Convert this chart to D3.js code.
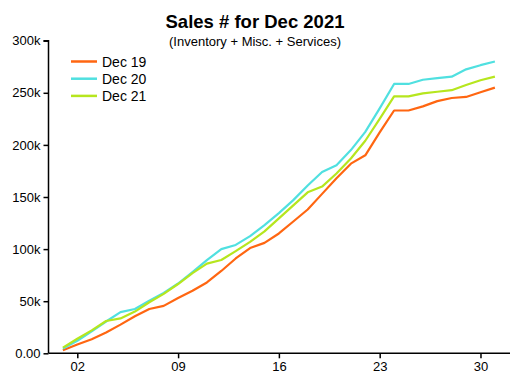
<!DOCTYPE html>
<html>
<head>
<meta charset="utf-8">
<script src="https://cdn.jsdelivr.net/npm/d3@7"></script>
<style>
  body { margin: 0; background: #fff; }
  svg { display: block; font-family: "Liberation Sans", Arial, sans-serif; }
  .axis text { font-size: 13px; fill: #000; }
  .axis path, .axis line { stroke: #000; stroke-width: 1.5; }
</style>
</head>
<body>
<svg id="chart" width="510" height="382"></svg>
<script>
const days = d3.range(1, 32);
const dec19 = [3, 8.5, 13.5, 20, 27.5, 35.5, 42.5, 45.5, 53, 60, 68, 79, 91, 101, 106, 115, 126.5, 138, 153, 168, 182, 190, 212, 233, 233, 237, 242, 245, 246, 250.5, 255];
const dec20 = [4.5, 12, 21, 30.5, 39.5, 42.5, 50.5, 58, 67, 78, 89.5, 100, 104, 112.5, 123, 134.5, 147, 161, 174, 180.5, 195, 212.5, 235, 258.5, 258.5, 262.5, 264, 265.5, 272.5, 276.5, 280];
const dec21 = [5.5, 14, 22, 31, 33.5, 40, 49, 57, 66.5, 77, 86, 89.5, 98, 107, 117, 129.5, 142, 154.5, 160, 172.5, 187, 204, 225, 246.5, 246.5, 249.5, 251, 252.5, 257.5, 262, 265.5];
const seriesNames = ["Dec 19", "Dec 20", "Dec 21"];
const seriesColors = ["#ff6611", "#50e0e0", "#b6e61e"];
const xTicks = [2, 9, 16, 23, 30];
const yTicks = [0, 50, 100, 150, 200, 250, 300];

const series = [dec19, dec20, dec21].map((values, index) => ({
  name: seriesNames[index],
  color: seriesColors[index],
  values: values.map((value, i) => ({ day: days[i], value }))
}));

const svg = d3.select("#chart");
const x = d3.scaleLinear().domain([0, 32.05]).range([48.5, 510]);
const y = d3.scaleLinear().domain([0, 300]).range([353.3, 40.7]);

svg.append("g")
  .attr("class", "axis")
  .attr("transform", "translate(48.5,0)")
  .call(d3.axisLeft(y).tickValues(yTicks).tickSize(5).tickPadding(3)
    .tickFormat((value) => value === 0 ? "0.00" : `${value}k`))
  .call((g) => g.select(".domain").attr("d", `M-5,${y(300)}H0V${y(0)}`));

svg.append("g")
  .attr("class", "axis")
  .attr("transform", "translate(0,353.3)")
  .call(d3.axisBottom(x).tickValues(xTicks).tickSize(5).tickPadding(3)
    .tickFormat((value) => String(value).padStart(2, "0")))
  .call((g) => g.select(".domain").attr("d", `M48.5,0H510`));

const line = d3.line()
  .x((item) => x(item.day))
  .y((item) => y(item.value));

svg.append("g")
  .selectAll("path")
  .data(series)
  .join("path")
  .attr("fill", "none")
  .attr("stroke", (item) => item.color)
  .attr("stroke-width", 2.2)
  .attr("stroke-linejoin", "round")
  .attr("d", (item) => line(item.values));

svg.append("text")
  .attr("x", 255)
  .attr("y", 28)
  .attr("text-anchor", "middle")
  .attr("font-size", 18.5)
  .attr("font-weight", "bold")
  .text("Sales # for Dec 2021");

svg.append("text")
  .attr("x", 255)
  .attr("y", 45.5)
  .attr("text-anchor", "middle")
  .attr("font-size", 13)
  .text("(Inventory + Misc. + Services)");

const legend = svg.append("g")
  .selectAll("g")
  .data(series)
  .join("g")
  .attr("transform", (item, i) => `translate(71,${61.5 + i * 17.2})`);

legend.append("line")
  .attr("x1", 0)
  .attr("x2", 26)
  .attr("stroke", (item) => item.color)
  .attr("stroke-width", 2.5);

legend.append("text")
  .attr("x", 31)
  .attr("dy", "0.36em")
  .attr("font-size", 14)
  .text((item) => item.name);
</script>
</body>
</html>
